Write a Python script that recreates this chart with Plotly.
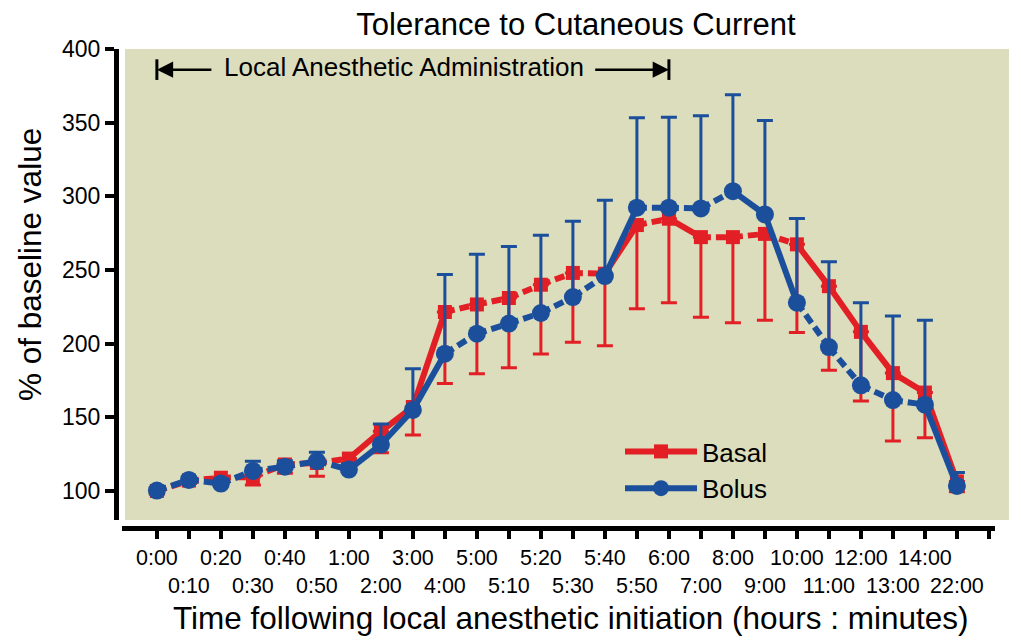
import plotly.graph_objects as go

# ---------------- data ----------------
time_labels = ["0:00", "0:10", "0:20", "0:30", "0:40", "0:50", "1:00", "2:00", "3:00",
               "4:00", "5:00", "5:10", "5:20", "5:30", "5:40", "5:50", "6:00", "7:00",
               "8:00", "9:00", "10:00", "11:00", "12:00", "13:00", "14:00", "22:00"]

basal = [100, 107, 109, 109.5, 118, 119, 122, 140.5, 157, 221.5, 226.6, 231, 240, 248,
         247.5, 280.5, 284.8, 272.3, 272.3, 274.5, 267.4, 239, 208, 180, 166.8, 106.5]
basal_err = [2, 2, 3, 5.5, 6, 9, 5, 14.5, 19, 48.6, 47, 47.3, 47, 47, 49, 56.8, 57,
             54.3, 58.1, 58.7, 59.9, 57, 47, 46, 30.6, 7]

bolus = [100.3, 107.5, 105, 113.6, 116.5, 120.3, 114.5, 131.5, 155, 193.2, 206.8, 213.6,
         220.8, 231.6, 245.9, 292.3, 292.3, 291.8, 303.5, 287.7, 227.8, 197.7, 171.7,
         161.7, 158.6, 103.4]
bolus_err = [2, 2, 3, 6.5, 4, 6, 4, 14, 28, 53.8, 53.8, 52.4, 52.7, 51.4, 51.5, 61,
             61.4, 62.9, 65.5, 63.8, 57.2, 57.9, 56.1, 57, 57.2, 9.1]

# 1 = solid segment to next point, 0 = dashed segment
basal_solid = [0, 0, 0, 0, 0, 0, 1, 1, 1, 0, 0, 0, 0, 0, 1, 0, 1, 0, 0, 0, 1, 1, 1, 1, 1]
bolus_solid = [0, 0, 0, 0, 0, 0, 1, 1, 1, 0, 0, 0, 0, 0, 1, 0, 0, 0, 1, 1, 0, 0, 0, 0, 1]

y_ticks = [100, 150, 200, 250, 300, 350, 400]
admin_start = "0:00"
admin_end = "6:00"

# ---------------- styles ----------------
RED = "#e31f26"
BLUE = "#1b4f9c"
BG = "#dcddbc"
FONT = "Arial, Liberation Sans, Helvetica, sans-serif"
DASH = "10px,5px"

x = list(range(len(time_labels)))


def segs(vals, flags, want):
    xs, ys = [], []
    for i, f in enumerate(flags):
        if f == want:
            xs += [x[i], x[i + 1], None]
            ys += [vals[i], vals[i + 1], None]
    return xs, ys


fig = go.Figure()

series = [
    ("Basal", basal, basal_err, basal_solid, RED, "square", 14, False),
    ("Bolus", bolus, bolus_err, bolus_solid, BLUE, "circle", 18, True),
]

for name, vals, err, solid, color, sym, msize, up in series:
    for want, dash in ((0, DASH), (1, "solid")):
        xs, ys = segs(vals, solid, want)
        fig.add_trace(go.Scatter(x=xs, y=ys, mode="lines", showlegend=False,
                                 hoverinfo="skip",
                                 line=dict(color=color, width=6, dash=dash)))
    fig.add_trace(go.Scatter(
        x=x, y=vals, mode="markers", showlegend=False, name=name,
        marker=dict(symbol=sym, size=msize, color=color, line=dict(width=0)),
        error_y=dict(type="data", symmetric=False,
                     array=err if up else [0] * len(err),
                     arrayminus=[0] * len(err) if up else err,
                     color=color, thickness=3, width=8)))
    # legend entry
    fig.add_trace(go.Scatter(x=[None], y=[None], mode="lines+markers", name=name,
                             line=dict(color=color, width=6),
                             marker=dict(symbol=sym, size=msize, color=color)))

# tick labels (staggered in two rows)
tickvals = x + [len(x)]
ticktext = [lbl if i % 2 == 0 else "<br>" + lbl for i, lbl in enumerate(time_labels)] + [""]

# page places the figure 8px from the top-left corner
OFF = 8
W, H = 1017, 639
ML, MT = 116 - OFF, 49 - OFF
PB = 528 - OFF                      # bottom of plot area (x-axis line)
MB = H - PB
MR = 0
PW = W - ML - MR
PH = PB - MT


def px(v):   # viewport x -> paper fraction
    return (v - OFF - ML) / PW


def py(v):   # viewport y -> paper fraction
    return (PB - (v - OFF)) / PH


i0 = time_labels.index(admin_start)
i1 = time_labels.index(admin_end)
arrow_y = 386

fig.update_layout(
    width=W, height=H,
    margin=dict(l=ML, r=MR, t=MT, b=MB, autoexpand=False),
    paper_bgcolor="white", plot_bgcolor="rgba(0,0,0,0)",
    font=dict(family=FONT, color="black"),
    title=dict(text="Tolerance to Cutaneous Current", x=px(576), xref="paper",
               xanchor="center", y=1 - 5 / H, yref="container", yanchor="top",
               pad=dict(t=0, b=0, l=0, r=0),
               font=dict(size=31, color="black")),
    showlegend=True,
    legend=dict(x=px(620), y=py(470), xanchor="left", yanchor="middle",
                bgcolor="rgba(0,0,0,0)", font=dict(size=26), itemwidth=72,
                tracegroupgap=0),
    xaxis=dict(range=[-1.09, 26.19], domain=[px(122), px(995)], anchor="free", position=0,
               showline=True, linewidth=5, linecolor="black", ticks="outside", ticklen=8,
               tickwidth=4, tickcolor="black", tickvals=tickvals, ticktext=ticktext,
               tickangle=0, automargin=False,
               tickfont=dict(size=21.5), showgrid=False, zeroline=False),
    yaxis=dict(range=[80.3, 400], domain=[py(520), 1], anchor="free", position=0,
               showline=True, linewidth=5, linecolor="black", ticks="outside", ticklen=9,
               tickwidth=4, tickcolor="black", tickvals=y_ticks, tickfont=dict(size=23),
               showgrid=False, zeroline=False, automargin=False),
    shapes=[
        dict(type="rect", xref="paper", yref="paper", x0=px(125), x1=1, y0=py(520), y1=1,
             fillcolor=BG, line=dict(width=0), layer="below"),
        dict(type="line", xref="x", yref="y", x0=x[i0], x1=x[i0], y0=arrow_y - 7,
             y1=arrow_y + 7, line=dict(color="black", width=3)),
        dict(type="line", xref="x", yref="y", x0=x[i1], x1=x[i1], y0=arrow_y - 7,
             y1=arrow_y + 7, line=dict(color="black", width=3)),
    ],
    annotations=[
        dict(x=x[i0], y=arrow_y, ax=x[i0] + 1.75, ay=arrow_y, xref="x", yref="y",
             axref="x", ayref="y", text="", showarrow=True, arrowhead=2, arrowsize=1.3,
             arrowwidth=2.5, arrowcolor="black", standoff=0),
        dict(x=x[i1], y=arrow_y, ax=x[i1] - 2.35, ay=arrow_y, xref="x", yref="y",
             axref="x", ayref="y", text="", showarrow=True, arrowhead=2, arrowsize=1.3,
             arrowwidth=2.5, arrowcolor="black", standoff=0),
        dict(x=(x[i0] + x[i1]) / 2 - 0.28, y=arrow_y + 2, xref="x", yref="y",
             text="Local Anesthetic Administration", showarrow=False,
             font=dict(size=26, color="black"), xanchor="center", yanchor="middle"),
        # axis titles
        dict(x=px(570), y=py(618), xref="paper", yref="paper",
             text="Time following local anesthetic initiation (hours : minutes)",
             showarrow=False, font=dict(size=31.5, color="black"),
             xanchor="center", yanchor="middle"),
        dict(x=px(30), y=py(265), xref="paper", yref="paper",
             text="% of baseline value", textangle=-90,
             showarrow=False, font=dict(size=31.5, color="black"),
             xanchor="center", yanchor="middle"),
    ],
)

fig.write_html("out.html")
